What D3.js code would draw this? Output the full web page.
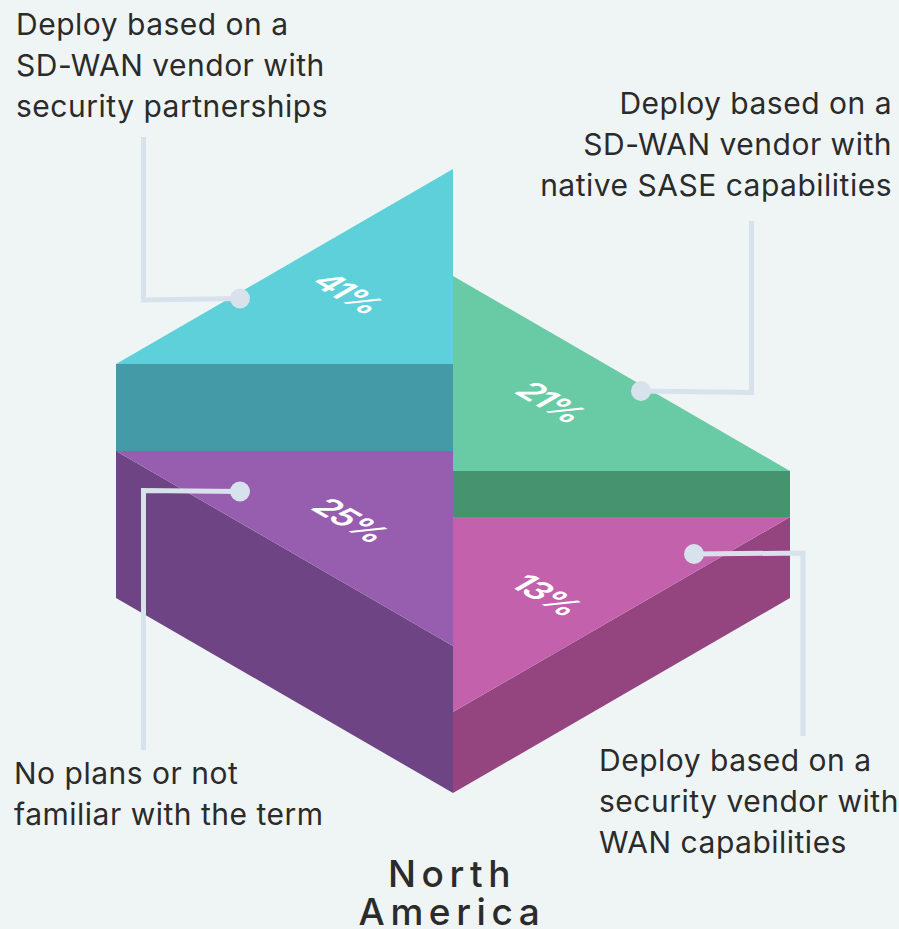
<!DOCTYPE html>
<html>
<head>
<meta charset="utf-8">
<style>
  html, body { margin: 0; padding: 0; background: #eff5f5; }
  svg { display: block; }
  text { font-family: Inter, Lato, sans-serif; }
</style>
</head>
<body>
<svg id="chart" width="899" height="929"></svg>
<script src="https://cdn.jsdelivr.net/npm/d3@7/dist/d3.min.js"></script>
<script>
// data
const categories = [
  ["Deploy based on a", "SD-WAN vendor with", "security partnerships"],
  ["Deploy based on a", "SD-WAN vendor with", "native SASE capabilities"],
  ["No plans or not", "familiar with the term"],
  ["Deploy based on a", "security vendor with", "WAN capabilities"]
];
const shares = [41, 21, 25, 13];
const regionLines = ["North", "America"];

// colours: top face, side face
const topColors = ["#5dd0da", "#69cba5", "#975eb0", "#c361ad"];
const sideColors = ["#449aa6", "#46946f", "#6f4484", "#944580"];
const lineColor = "#d8e2ec";
const textColor = "#2b2b2b";

// the picture scales the top and bottom rows differently
const depthUpper = d3.scaleLinear().domain([21, 41]).range([46, 88]);
const depthLower = d3.scaleLinear().domain([13, 25]).range([81, 147]);
const x = d3.scaleLinear().domain([-1, 1]).range([116, 790]);
const RISE = 195;

// layout per block, same order as shares
const layout = [
  { side: -1, row: "upper", flatY: 364, labelX: -0.312, labelDy: -71,
    leader: [[143.5, 137], [143.5, 300], [240, 298.5]],
    text: { x: 16, y: 35, anchor: "start" } },
  { side: 1, row: "upper", flatY: 471, labelX: 0.29, labelDy: -69,
    leader: [[751.5, 221], [751.5, 392.5], [641, 391]],
    text: { x: 892, y: 114, anchor: "end" } },
  { side: -1, row: "lower", flatY: 451, labelX: -0.305, labelDy: 69,
    leader: [[143.5, 750], [143.5, 490.5], [240, 491.5]],
    text: { x: 14, y: 784, anchor: "start" } },
  { side: 1, row: "lower", flatY: 517, labelX: 0.277, labelDy: 78,
    leader: [[803, 736], [803, 553], [694, 554]],
    text: { x: 599, y: 771, anchor: "start" } }
];

const svg = d3.select("#chart");
svg.append("rect").attr("width", 899).attr("height", 929).attr("fill", "#eff5f5");

const blocks = shares.map((v, i) => {
  const l = layout[i];
  const upper = l.row === "upper";
  const depth = upper ? depthUpper(v) : depthLower(v);
  const cx = x(0), ox = x(l.side), y = l.flatY;
  const tipY = upper ? y - RISE : y + RISE;
  const top = [[cx, y], [ox, y], [cx, tipY]];
  // upper blocks show the straight front, lower ones the slanted one
  const side = upper
    ? [[cx, y], [ox, y], [ox, y + depth], [cx, y + depth]]
    : [[ox, y], [cx, tipY], [cx, tipY + depth], [ox, y + depth]];
  return { v, i, l, top, side };
});

const lineGen = d3.line();

const plates = svg.append("g");
plates.selectAll(".side").data(blocks).enter().append("path")
  .attr("class", "side")
  .attr("d", d => lineGen(d.side) + "Z")
  .attr("fill", d => sideColors[d.i]);
plates.selectAll(".top").data(blocks).enter().append("path")
  .attr("class", "top")
  .attr("d", d => lineGen(d.top) + "Z")
  .attr("fill", d => topColors[d.i]);

// percent labels lie flat on the top face
svg.append("g").selectAll("text").data(blocks).enter().append("text")
  .attr("transform", d => {
    const px = x(d.l.labelX), py = d.l.flatY + d.l.labelDy;
    return `matrix(0.866,0.5,-0.866,0.5,${px},${py})`;
  })
  .attr("text-anchor", "middle")
  .attr("dy", "0.36em")
  .attr("fill", "#fff")
  .style("font-size", "34px")
  .style("font-weight", "600")
  .style("letter-spacing", "-2px")
  .text(d => d.v + "%");

// leader lines
const leaders = svg.append("g");
leaders.selectAll("path").data(blocks).enter().append("path")
  .attr("d", d => lineGen(d.l.leader))
  .attr("fill", "none")
  .attr("stroke", lineColor)
  .attr("stroke-width", 5);
leaders.selectAll("circle").data(blocks).enter().append("circle")
  .attr("cx", d => d.l.leader[2][0])
  .attr("cy", d => d.l.leader[2][1])
  .attr("r", 10)
  .attr("fill", lineColor);

// category labels
const labels = svg.append("g").selectAll("text").data(blocks).enter().append("text")
  .attr("text-anchor", d => d.l.text.anchor)
  .attr("fill", textColor)
  .style("font-size", "30px")
  .style("letter-spacing", "0.5px");
labels.selectAll("tspan").data(d => categories[d.i].map((t, n) => ({ t, n, l: d.l }))).enter().append("tspan")
  .attr("x", d => d.l.text.x)
  .attr("y", d => d.l.text.y + d.n * 41)
  .text(d => d.t);

// region title, one text so the tight leading stays together
const title = svg.append("text")
  .attr("text-anchor", "middle")
  .attr("fill", textColor)
  .style("font-size", "37px")
  .style("font-weight", "500")
  .style("letter-spacing", "5.6px");
title.selectAll("tspan").data(regionLines).enter().append("tspan")
  .attr("x", 452)
  .attr("y", (d, n) => 887 + n * 38)
  .text(d => d);
</script>
</body>
</html>
